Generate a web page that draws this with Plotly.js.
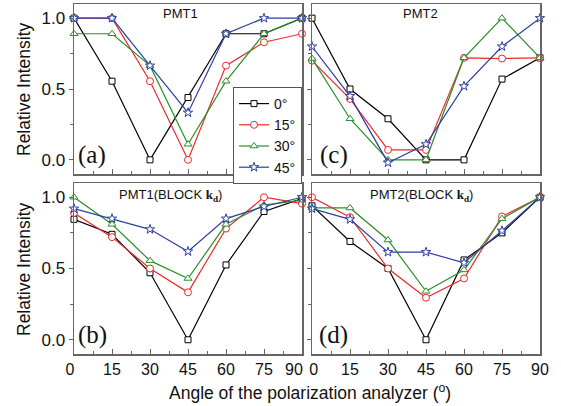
<!DOCTYPE html>
<html>
<head>
<meta charset="utf-8">
<script src="https://cdn.plot.ly/plotly-3.0.1.min.js"></script>
<style>html,body{margin:0;padding:0;background:#fff;}#chart{width:561px;height:406px;}</style>
</head>
<body>
<div id="chart"></div>
<script>
// ---- data ----
const angles = [0, 15, 30, 45, 60, 75, 90];
const seriesNames = ['0°', '15°', '30°', '45°'];
const panelTitles = ['PMT1', 'PMT2', 'PMT1(BLOCK <span style="font-family:Liberation Serif"><b>k</b><sub><b>d</b></sub></span>)', 'PMT2(BLOCK <span style="font-family:Liberation Serif"><b>k</b><sub><b>d</b></sub></span>)'];
const panelLetters = ['(a)', '(c)', '(b)', '(d)'];
const yTickVals = [0, 0.5, 1.0];
const yTickText = ['0.0', '0.5', '1.0'];
const xTickVals = [0, 15, 30, 45, 60, 75, 90];
const xTickTextLeft = ['0\u2002', '15', '30', '45', '60', '75', ''];
const xTickTextRight = ['\u20090', '15', '30', '45', '60', '75', '90'];
const leftEndLabel = '90';

// panel (a) PMT1
const a_0  = [1.00, 0.555, 0.00, 0.44, 0.89, 0.89, 1.00];
const a_15 = [1.00, 1.00, 0.555, 0.00, 0.665, 0.83, 0.89];
const a_30 = [0.89, 0.89, 0.665, 0.11, 0.555, 0.89, 1.00];
const a_45 = [1.00, 1.00, 0.665, 0.333, 0.89, 1.00, 1.00];
// panel (c) PMT2
const c_0  = [1.00, 0.50, 0.29, 0.00, 0.00, 0.57, 0.72];
const c_15 = [0.70, 0.43, 0.07, 0.07, 0.72, 0.715, 0.72];
const c_30 = [0.715, 0.29, 0.00, 0.00, 0.72, 1.00, 0.72];
const c_45 = [0.80, 0.45, -0.02, 0.11, 0.52, 0.80, 1.00];
// panel (b) PMT1 (BLOCK kd)
const b_0  = [0.845, 0.74, 0.47, 0.00, 0.525, 0.90, 0.99];
const b_15 = [0.89, 0.72, 0.50, 0.333, 0.78, 1.00, 0.955];
const b_30 = [1.00, 0.81, 0.555, 0.43, 0.81, 0.945, 0.98];
const b_45 = [0.92, 0.85, 0.775, 0.62, 0.85, 0.935, 1.00];
// panel (d) PMT2 (BLOCK kd)
const d_0  = [0.94, 0.69, 0.50, 0.00, 0.56, 0.75, 1.00];
const d_15 = [1.00, 0.86, 0.50, 0.295, 0.43, 0.865, 1.00];
const d_30 = [0.925, 0.925, 0.70, 0.34, 0.49, 0.85, 1.00];
const d_45 = [0.92, 0.845, 0.615, 0.615, 0.54, 0.765, 1.00];

const panels = [
  {xa: 'x',  ya: 'y',  data: [a_0, a_15, a_30, a_45]},
  {xa: 'x2', ya: 'y2', data: [c_0, c_15, c_30, c_45]},
  {xa: 'x3', ya: 'y3', data: [b_0, b_15, b_30, b_45]},
  {xa: 'x4', ya: 'y4', data: [d_0, d_15, d_30, d_45]}
];

// ---- styles ----
const colors = ['#000000', '#ee2a2a', '#2a8f2a', '#2b3f9e'];
const symbols = ['square', 'circle', 'triangle-up', 'star'];
const msizes = [6, 7, 7, 7];

const traces = [];
panels.forEach((p, pi) => {
  p.data.forEach((vals, si) => {
    traces.push({
      type: 'scatter', mode: 'lines+markers',
      x: angles, y: vals, xaxis: p.xa, yaxis: p.ya,
      name: seriesNames[si], showlegend: pi === 0,
      cliponaxis: false,
      line: {color: colors[si], width: 1.2},
      marker: {symbol: symbols[si], size: msizes[si], color: '#ffffff', line: {color: colors[si], width: 1}}
    });
  });
});

const W = 561, H = 406;
const xL = [74 / W, 302 / W], xR = [312 / W, 540 / W];
const yT = [1 - 174 / H, 1 - 4 / H], yB = [1 - 354 / H, 1 - 183 / H];
const font = 'Arial, Liberation Sans, sans-serif';
const axisLine = '#666666';

function xaxis(domain, anchor, showLabels, tickText) {
  return {
    domain: domain, anchor: anchor, range: [0, 90], autorange: false,
    tickvals: xTickVals, ticktext: tickText, showticklabels: showLabels,
    ticks: 'inside', ticklen: 5, tickcolor: axisLine, tickwidth: 1,
    minor: {dtick: 7.5, tick0: 0, ticks: 'inside', ticklen: 3, tickcolor: axisLine},
    showline: true, mirror: true, linecolor: axisLine, linewidth: 1.5,
    showgrid: false, zeroline: false,
    tickfont: {family: font, size: 16, color: '#111'}
  };
}
function yaxis(domain, anchor, showLabels) {
  return {
    domain: domain, anchor: anchor, range: [-0.1, 1.1], autorange: false,
    tickvals: yTickVals, ticktext: yTickText, showticklabels: showLabels,
    ticks: 'outside', ticklen: 4, tickcolor: axisLine, tickwidth: 1,
    minor: {dtick: 0.25, tick0: 0, ticks: 'outside', ticklen: 3, tickcolor: axisLine},
    showline: true, mirror: true, linecolor: axisLine, linewidth: 1.5,
    showgrid: false, zeroline: false,
    tickfont: {family: font, size: 17, color: '#111'}
  };
}

const annotations = [];
const titlePos = [[180, 13], [420, 13], [170, 195], [421, 195]];
const letterPos = [[92, 155], [334, 155], [92, 335], [333, 335]];
for (let i = 0; i < 4; i++) {
  annotations.push({xref: 'paper', yref: 'paper', x: titlePos[i][0] / W, y: 1 - titlePos[i][1] / H,
    text: panelTitles[i], showarrow: false, xanchor: 'center', yanchor: 'middle',
    font: {family: font, size: 13, color: '#111'}});
  annotations.push({xref: 'paper', yref: 'paper', x: letterPos[i][0] / W, y: 1 - letterPos[i][1] / H,
    text: panelLetters[i], showarrow: false, xanchor: 'center', yanchor: 'middle',
    font: {family: 'Liberation Serif, Times New Roman, serif', size: 25, color: '#111'}});
}
// last tick label of the lower-left axis, nudged left as in the reference
annotations.push({xref: 'paper', yref: 'paper', x: 294 / W, y: 1 - 369 / H,
  text: leftEndLabel, showarrow: false, xanchor: 'center', yanchor: 'middle', borderpad: 0,
  font: {family: font, size: 16, color: '#111'}});
// axis titles
annotations.push({xref: 'paper', yref: 'paper', x: 310 / W, y: 1 - 392 / H,
  text: 'Angle of the polarization analyzer (<sup>o</sup>)', showarrow: false,
  xanchor: 'center', yanchor: 'middle', font: {family: font, size: 17.5, color: '#111'}});
[89, 269].forEach(yc => {
  annotations.push({xref: 'paper', yref: 'paper', x: 24 / W, y: 1 - yc / H,
    text: 'Relative Intensity', showarrow: false, textangle: -90,
    xanchor: 'center', yanchor: 'middle', font: {family: font, size: 17.5, color: '#111'}});
});

const layout = {
  width: W, height: H,
  margin: {l: 0, r: 0, t: 0, b: 0},
  paper_bgcolor: '#ffffff', plot_bgcolor: '#ffffff',
  showlegend: true,
  legend: {x: 302 / W, y: 1 - 87 / H, xanchor: 'right', yanchor: 'top',
    bgcolor: '#ffffff', bordercolor: '#555555', borderwidth: 1,
    font: {family: font, size: 14, color: '#111'}, itemwidth: 30, tracegroupgap: 0},
  xaxis: xaxis(xL, 'y', false, xTickTextLeft),
  yaxis: yaxis(yT, 'x', true),
  xaxis2: xaxis(xR, 'y2', false, xTickTextRight),
  yaxis2: yaxis(yT, 'x2', false),
  xaxis3: xaxis(xL, 'y3', true, xTickTextLeft),
  yaxis3: yaxis(yB, 'x3', true),
  xaxis4: xaxis(xR, 'y4', true, xTickTextRight),
  yaxis4: yaxis(yB, 'x4', false),
  annotations: annotations
};

Plotly.newPlot('chart', traces, layout, {staticPlot: true, displayModeBar: false});
</script>
</body>
</html>
